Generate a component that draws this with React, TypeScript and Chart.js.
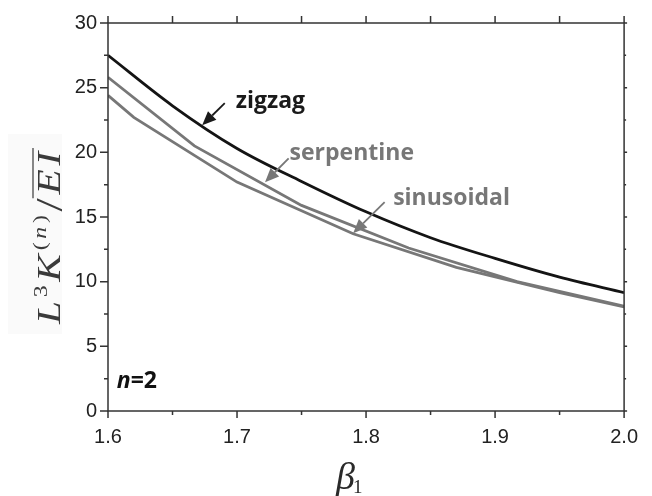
import React, { useEffect, useRef } from "react";
import { Chart, registerables } from "chart.js";

Chart.register(...registerables);

// ---- data ----
const ZIGZAG_X = [1.6, 1.65, 1.7, 1.75, 1.8, 1.85, 1.9, 1.95, 2.0];
const ZIGZAG_Y = [27.5, 23.6, 20.3, 17.75, 15.4, 13.4, 11.8, 10.35, 9.15];

const SERPENTINE_X = [1.6, 1.667, 1.75, 1.833, 1.917, 2.0];
const SERPENTINE_Y = [25.8, 20.5, 15.9, 12.6, 10.0, 8.1];

const SINUSOIDAL_X = [1.6, 1.62, 1.7, 1.79, 1.87, 1.95, 2.0];
const SINUSOIDAL_Y = [24.4, 22.7, 17.7, 13.7, 11.1, 9.15, 8.05];

const X_MAJOR = [1.6, 1.7, 1.8, 1.9, 2.0];
const X_MINOR = [1.65, 1.75, 1.85, 1.95];
const Y_MAJOR = [0, 5, 10, 15, 20, 25, 30];
const Y_MINOR = [2.5, 7.5, 12.5, 17.5, 22.5, 27.5];

// labels: [text, x, y(baseline), color]
const LABELS: [string, number, number, string][] = [
  ["zigzag", 1.699, 23.4, "#1a1a1a"],
  ["serpentine", 1.7407, 19.39, "#777777"],
  ["sinusoidal", 1.821, 15.91, "#777777"],
];
// arrows: [tailX, tailY, tipX, tipY, color]
const ARROWS: [number, number, number, number, string][] = [
  [1.6905, 23.8, 1.673, 22.09, "#1a1a1a"],
  [1.74, 19.54, 1.7217, 17.69, "#777777"],
  [1.8144, 16.15, 1.79, 13.75, "#777777"],
];
const N_LABEL_POS = [1.6068, 1.75];

const toPts = (xs: number[], ys: number[]) => xs.map((x, i) => ({ x, y: ys[i] }));

const framePlugin = {
  id: "frame",
  beforeDraw(chart: any) {
    const { ctx } = chart;
    ctx.save();
    ctx.fillStyle = "#fafafa";
    ctx.fillRect(8, 134, 54, 200);
    ctx.restore();
  },
  afterDraw(chart: any) {
    const { ctx, chartArea } = chart;
    const { left, right, top, bottom } = chartArea;
    const sx = chart.scales.x;
    const sy = chart.scales.y;
    ctx.save();
    ctx.strokeStyle = "#333";
    ctx.lineWidth = 1.5;
    ctx.strokeRect(left, top, right - left, bottom - top);
    ctx.beginPath();
    X_MAJOR.forEach((v) => {
      const p = sx.getPixelForValue(v);
      ctx.moveTo(p, bottom);
      ctx.lineTo(p, bottom + 7);
      ctx.moveTo(p, top);
      ctx.lineTo(p, top - 7);
    });
    X_MINOR.forEach((v) => {
      const p = sx.getPixelForValue(v);
      ctx.moveTo(p, bottom);
      ctx.lineTo(p, bottom + 4);
      ctx.moveTo(p, top);
      ctx.lineTo(p, top - 7);
    });
    Y_MAJOR.forEach((v) => {
      const p = sy.getPixelForValue(v);
      ctx.moveTo(left, p);
      ctx.lineTo(left - 8, p);
      ctx.moveTo(right, p);
      ctx.lineTo(right + 3, p);
    });
    Y_MINOR.forEach((v) => {
      const p = sy.getPixelForValue(v);
      ctx.moveTo(left, p);
      ctx.lineTo(left - 4, p);
      ctx.moveTo(right, p);
      ctx.lineTo(right + 2, p);
    });
    ctx.stroke();

    // annotations
    ctx.textBaseline = "alphabetic";
    ctx.textAlign = "left";
    LABELS.forEach(([t, x, y, c]) => {
      ctx.fillStyle = c;
      ctx.font = "bold 23px 'Open Sans'";
      ctx.fillText(t, sx.getPixelForValue(x), sy.getPixelForValue(y));
    });
    ARROWS.forEach(([x1, y1, x2, y2, c]) => {
      const ax = sx.getPixelForValue(x1);
      const ay = sy.getPixelForValue(y1);
      const bx = sx.getPixelForValue(x2);
      const by = sy.getPixelForValue(y2);
      const ang = Math.atan2(by - ay, bx - ax);
      const hl = 14;
      const hw = 6;
      const baseX = bx - hl * Math.cos(ang);
      const baseY = by - hl * Math.sin(ang);
      ctx.strokeStyle = c;
      ctx.fillStyle = c;
      ctx.lineWidth = 1.8;
      ctx.beginPath();
      ctx.moveTo(ax, ay);
      ctx.lineTo(baseX, baseY);
      ctx.stroke();
      ctx.beginPath();
      ctx.moveTo(bx, by);
      ctx.lineTo(baseX + hw * Math.sin(ang), baseY - hw * Math.cos(ang));
      ctx.lineTo(baseX - hw * Math.sin(ang), baseY + hw * Math.cos(ang));
      ctx.closePath();
      ctx.fill();
    });

    // n=2
    {
      const px = sx.getPixelForValue(N_LABEL_POS[0]);
      const py = sy.getPixelForValue(N_LABEL_POS[1]);
      ctx.fillStyle = "#111";
      ctx.font = "italic bold 23px 'Open Sans'";
      ctx.fillText("n", px, py);
      const w = ctx.measureText("n").width;
      ctx.font = "bold 23px 'Open Sans'";
      ctx.fillText("=2", px + w, py);
    }

    // y-axis title: L^3 K^(n) / overline(EI)
    {
      ctx.save();
      ctx.translate(60, 236);
      ctx.rotate(-Math.PI / 2);
      ctx.scale(1.25, 1);
      (ctx as any).letterSpacing = "3px";
      const big = "italic 33px 'Liberation Serif'";
      const sup = "19px 'Liberation Serif'";
      const supI = "italic 19px 'Liberation Serif'";
      const parts: [string, string, number][] = [
        ["L", big, 0],
        ["3", sup, -13],
        ["K", big, 0],
        ["(", sup, -14],
        ["n", supI, -14],
        [")", sup, -14],
        ["/", "38px 'Liberation Serif'", 2],
        ["EI", big, 0],
      ];
      let total = 0;
      parts.forEach(([t, f]) => {
        ctx.font = f;
        total += ctx.measureText(t).width;
      });
      let cx = -total / 2;
      ctx.fillStyle = "#3a3a3a";
      ctx.strokeStyle = "#3a3a3a";
      parts.forEach(([t, f, dy]) => {
        ctx.font = f;
        const w = ctx.measureText(t).width;
        ctx.fillText(t, cx, dy);
        if (t === "EI") {
          ctx.lineWidth = 1.2;
          ctx.beginPath();
          ctx.moveTo(cx - 3, -27);
          ctx.lineTo(cx + w, -27);
          ctx.stroke();
        }
        cx += w;
      });
      ctx.restore();
    }

    // x-axis title: beta_1
    {
      ctx.fillStyle = "#2a2a2a";
      ctx.font = "italic 38px 'Liberation Serif'";
      const bx = 336;
      const by = 489;
      ctx.fillText("β", bx, by);
      const w = ctx.measureText("β").width;
      ctx.font = "19px 'Liberation Serif'";
      ctx.fillText("1", bx + w - 2, by + 4);
    }
    ctx.restore();
  },
};

export default function App() {
  const ref = useRef<HTMLCanvasElement | null>(null);
  useEffect(() => {
    document.body.style.margin = "0";
    if (!ref.current) return;
    const chart = new Chart(ref.current, {
      type: "scatter",
      data: {
        datasets: [
          {
            label: "serpentine",
            data: toPts(SERPENTINE_X, SERPENTINE_Y),
            showLine: true,
            borderColor: "#777777",
            borderWidth: 2.8,
            pointRadius: 0,
            tension: 0,
          },
          {
            label: "sinusoidal",
            data: toPts(SINUSOIDAL_X, SINUSOIDAL_Y),
            showLine: true,
            borderColor: "#777777",
            borderWidth: 2.8,
            pointRadius: 0,
            tension: 0,
          },
          {
            label: "zigzag",
            data: toPts(ZIGZAG_X, ZIGZAG_Y),
            showLine: true,
            borderColor: "#141414",
            borderWidth: 2.8,
            pointRadius: 0,
            cubicInterpolationMode: "monotone",
          },
        ],
      },
      options: {
        animation: false,
        responsive: false,
        events: [],
        layout: { padding: { left: 0, right: 19, top: 23, bottom: 0 } },
        plugins: { legend: { display: false }, tooltip: { enabled: false } },
        scales: {
          x: {
            type: "linear",
            min: 1.6,
            max: 2.0,
            grid: { display: false, drawTicks: false },
            border: { display: false },
            ticks: {
              stepSize: 0.1,
              padding: 14,
              color: "#222",
              font: { family: "'Liberation Sans'", size: 20 },
              callback: (v: any) => Number(v).toFixed(1),
            },
            afterFit: (s: any) => {
              s.height = 85;
            },
          },
          y: {
            min: 0,
            max: 30,
            grid: { display: false, drawTicks: false },
            border: { display: false },
            ticks: {
              stepSize: 5,
              padding: 11,
              color: "#222",
              font: { family: "'Liberation Sans'", size: 20 },
            },
            afterFit: (s: any) => {
              s.width = 108;
            },
          },
        },
      },
      plugins: [framePlugin],
    } as any);
    return () => chart.destroy();
  }, []);
  return (
    <div style={{ position: "absolute", left: 0, top: 0, width: 652, height: 496, background: "#fff" }}>
      <canvas ref={ref} width={652} height={496} style={{ width: 652, height: 496, display: "block" }} />
    </div>
  );
}
